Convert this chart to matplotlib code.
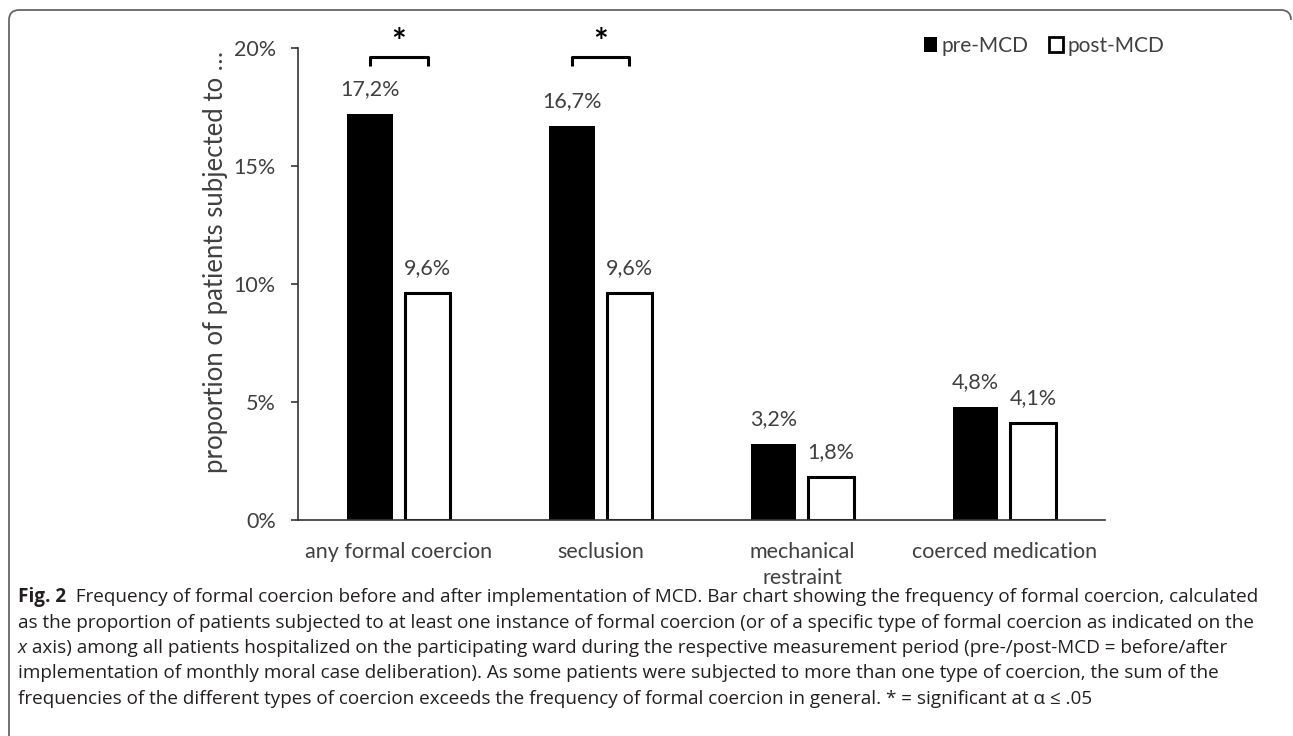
import numpy as np
import matplotlib.pyplot as plt
from matplotlib.path import Path
from matplotlib.patches import PathPatch, Patch

categories = ["any formal coercion", "seclusion", "mechanical\nrestraint", "coerced medication"]
pre_mcd = [17.2, 16.7, 3.2, 4.8]
post_mcd = [9.6, 9.6, 1.8, 4.1]
significant = [True, True, False, False]
yticks = [0, 5, 10, 15, 20]
series_names = ["pre-MCD", "post-MCD"]

caption_lines = [
    [("Fig. 2", "bold"), ("  Frequency of formal coercion before and after implementation of MCD. Bar chart showing the frequency of formal coercion, calculated", "normal")],
    [("as the proportion of patients subjected to at least one instance of formal coercion (or of a specific type of formal coercion as indicated on the", "normal")],
    [("x", "italic"), (" axis) among all patients hospitalized on the participating ward during the respective measurement period (pre-/post-MCD = before/after", "normal")],
    [("implementation of monthly moral case deliberation). As some patients were subjected to more than one type of coercion, the sum of the", "normal")],
    [("frequencies of the different types of coercion exceeds the frequency of formal coercion in general. * = significant at \u03b1 \u2264 .05", "normal")],
]

W, H = 1293, 736
grey = "#404040"
chart_font = ["Lato", "DejaVu Sans"]
cap_font = ["Open Sans", "DejaVu Sans"]

fig = plt.figure(figsize=(W / 100, H / 100), dpi=100)
fig.patch.set_facecolor("white")

# plot area
ax = fig.add_axes([298 / W, 1 - 520 / H, (1105 - 298) / W, (520 - 47.7) / H])
x = np.arange(len(categories))
width = 0.226
off = 0.1425
ax.bar(x - off, pre_mcd, width, color="black")
ax.bar(x + off, post_mcd, width, color="white", edgecolor="black", linewidth=2.2)

for xi, v in zip(x - off, pre_mcd):
    ax.annotate(f"{v:.1f}%".replace(".", ","), (xi, v), xytext=(0, 18), textcoords="offset points",
                ha="center", va="center", fontsize=15.5, color=grey, family=chart_font)
for xi, v in zip(x + off, post_mcd):
    ax.annotate(f"{v:.1f}%".replace(".", ","), (xi, v), xytext=(0, 18), textcoords="offset points",
                ha="center", va="center", fontsize=15.5, color=grey, family=chart_font)

# significance brackets
for xi, sig in zip(x, significant):
    if sig:
        ax.plot([xi - off, xi - off, xi + off, xi + off], [19.23, 19.62, 19.62, 19.23],
                color="black", lw=2.2, clip_on=False, solid_capstyle="butt")
        ax.text(xi, 20.18, "*", ha="center", va="center", fontsize=25, fontweight="bold",
                color="black", family=chart_font, clip_on=False)

ax.set_xlim(-0.5, 3.5)
ax.set_ylim(0, 20)
ax.set_yticks(yticks)
ax.set_yticklabels([f"{t}%" for t in yticks], fontsize=15.5, color=grey, family=chart_font)
ax.set_xticks(x)
ax.set_xticklabels(categories, fontsize=15.5, color=grey, family=chart_font, linespacing=1.35)
ax.tick_params(axis="x", length=0, pad=16)
ax.tick_params(axis="y", length=5, width=1.2, color="#333333", pad=11)
for s in ["top", "right"]:
    ax.spines[s].set_visible(False)
ax.spines["left"].set_color("#333333")
ax.spines["bottom"].set_color("#333333")
ax.spines["left"].set_linewidth(1.2)
ax.spines["bottom"].set_linewidth(1.2)

fig.text(216 / W, 1 - 262 / H, "proportion of patients subjected to \u2026", rotation=90,
         ha="center", va="center", fontsize=18.5, color=grey, family=chart_font)

handles = [Patch(facecolor="black", edgecolor="black", linewidth=0),
           Patch(facecolor="white", edgecolor="black", linewidth=2)]
leg = fig.legend(handles, series_names, loc="center", bbox_to_anchor=(1044 / W, 1 - 46 / H), ncol=2,
                 frameon=False, handlelength=0.65, handleheight=0.75, handletextpad=0.2,
                 columnspacing=1.0, prop={"family": chart_font, "size": 15})
for t in leg.get_texts():
    t.set_color(grey)

# frame around figure and caption
r = 10
verts = [(9, H), (9, 10 + r), (9, 10), (9 + r, 10), (W - 2 - r, 10), (W - 2, 10), (W - 2, 10 + r)]
codes = [Path.MOVETO, Path.LINETO, Path.CURVE3, Path.CURVE3, Path.LINETO, Path.CURVE3, Path.CURVE3]
verts = [(vx / W, 1 - vy / H) for vx, vy in verts]
fig.add_artist(PathPatch(Path(verts, codes), transform=fig.transFigure, fill=False,
                         edgecolor="#666666", lw=1.3))

# caption
renderer = fig.canvas.get_renderer()
y0 = 597
for i, runs in enumerate(caption_lines):
    xpos = 18
    for txt, style in runs:
        t = fig.text(xpos / W, 1 - (y0 + i * 25.5) / H, txt, ha="left", va="center", fontsize=13.6,
                     color="#231f20", family=cap_font,
                     fontweight="bold" if style == "bold" else "normal",
                     fontstyle="italic" if style == "italic" else "normal")
        xpos += t.get_window_extent(renderer).width

fig.savefig("out.png", dpi=100)
